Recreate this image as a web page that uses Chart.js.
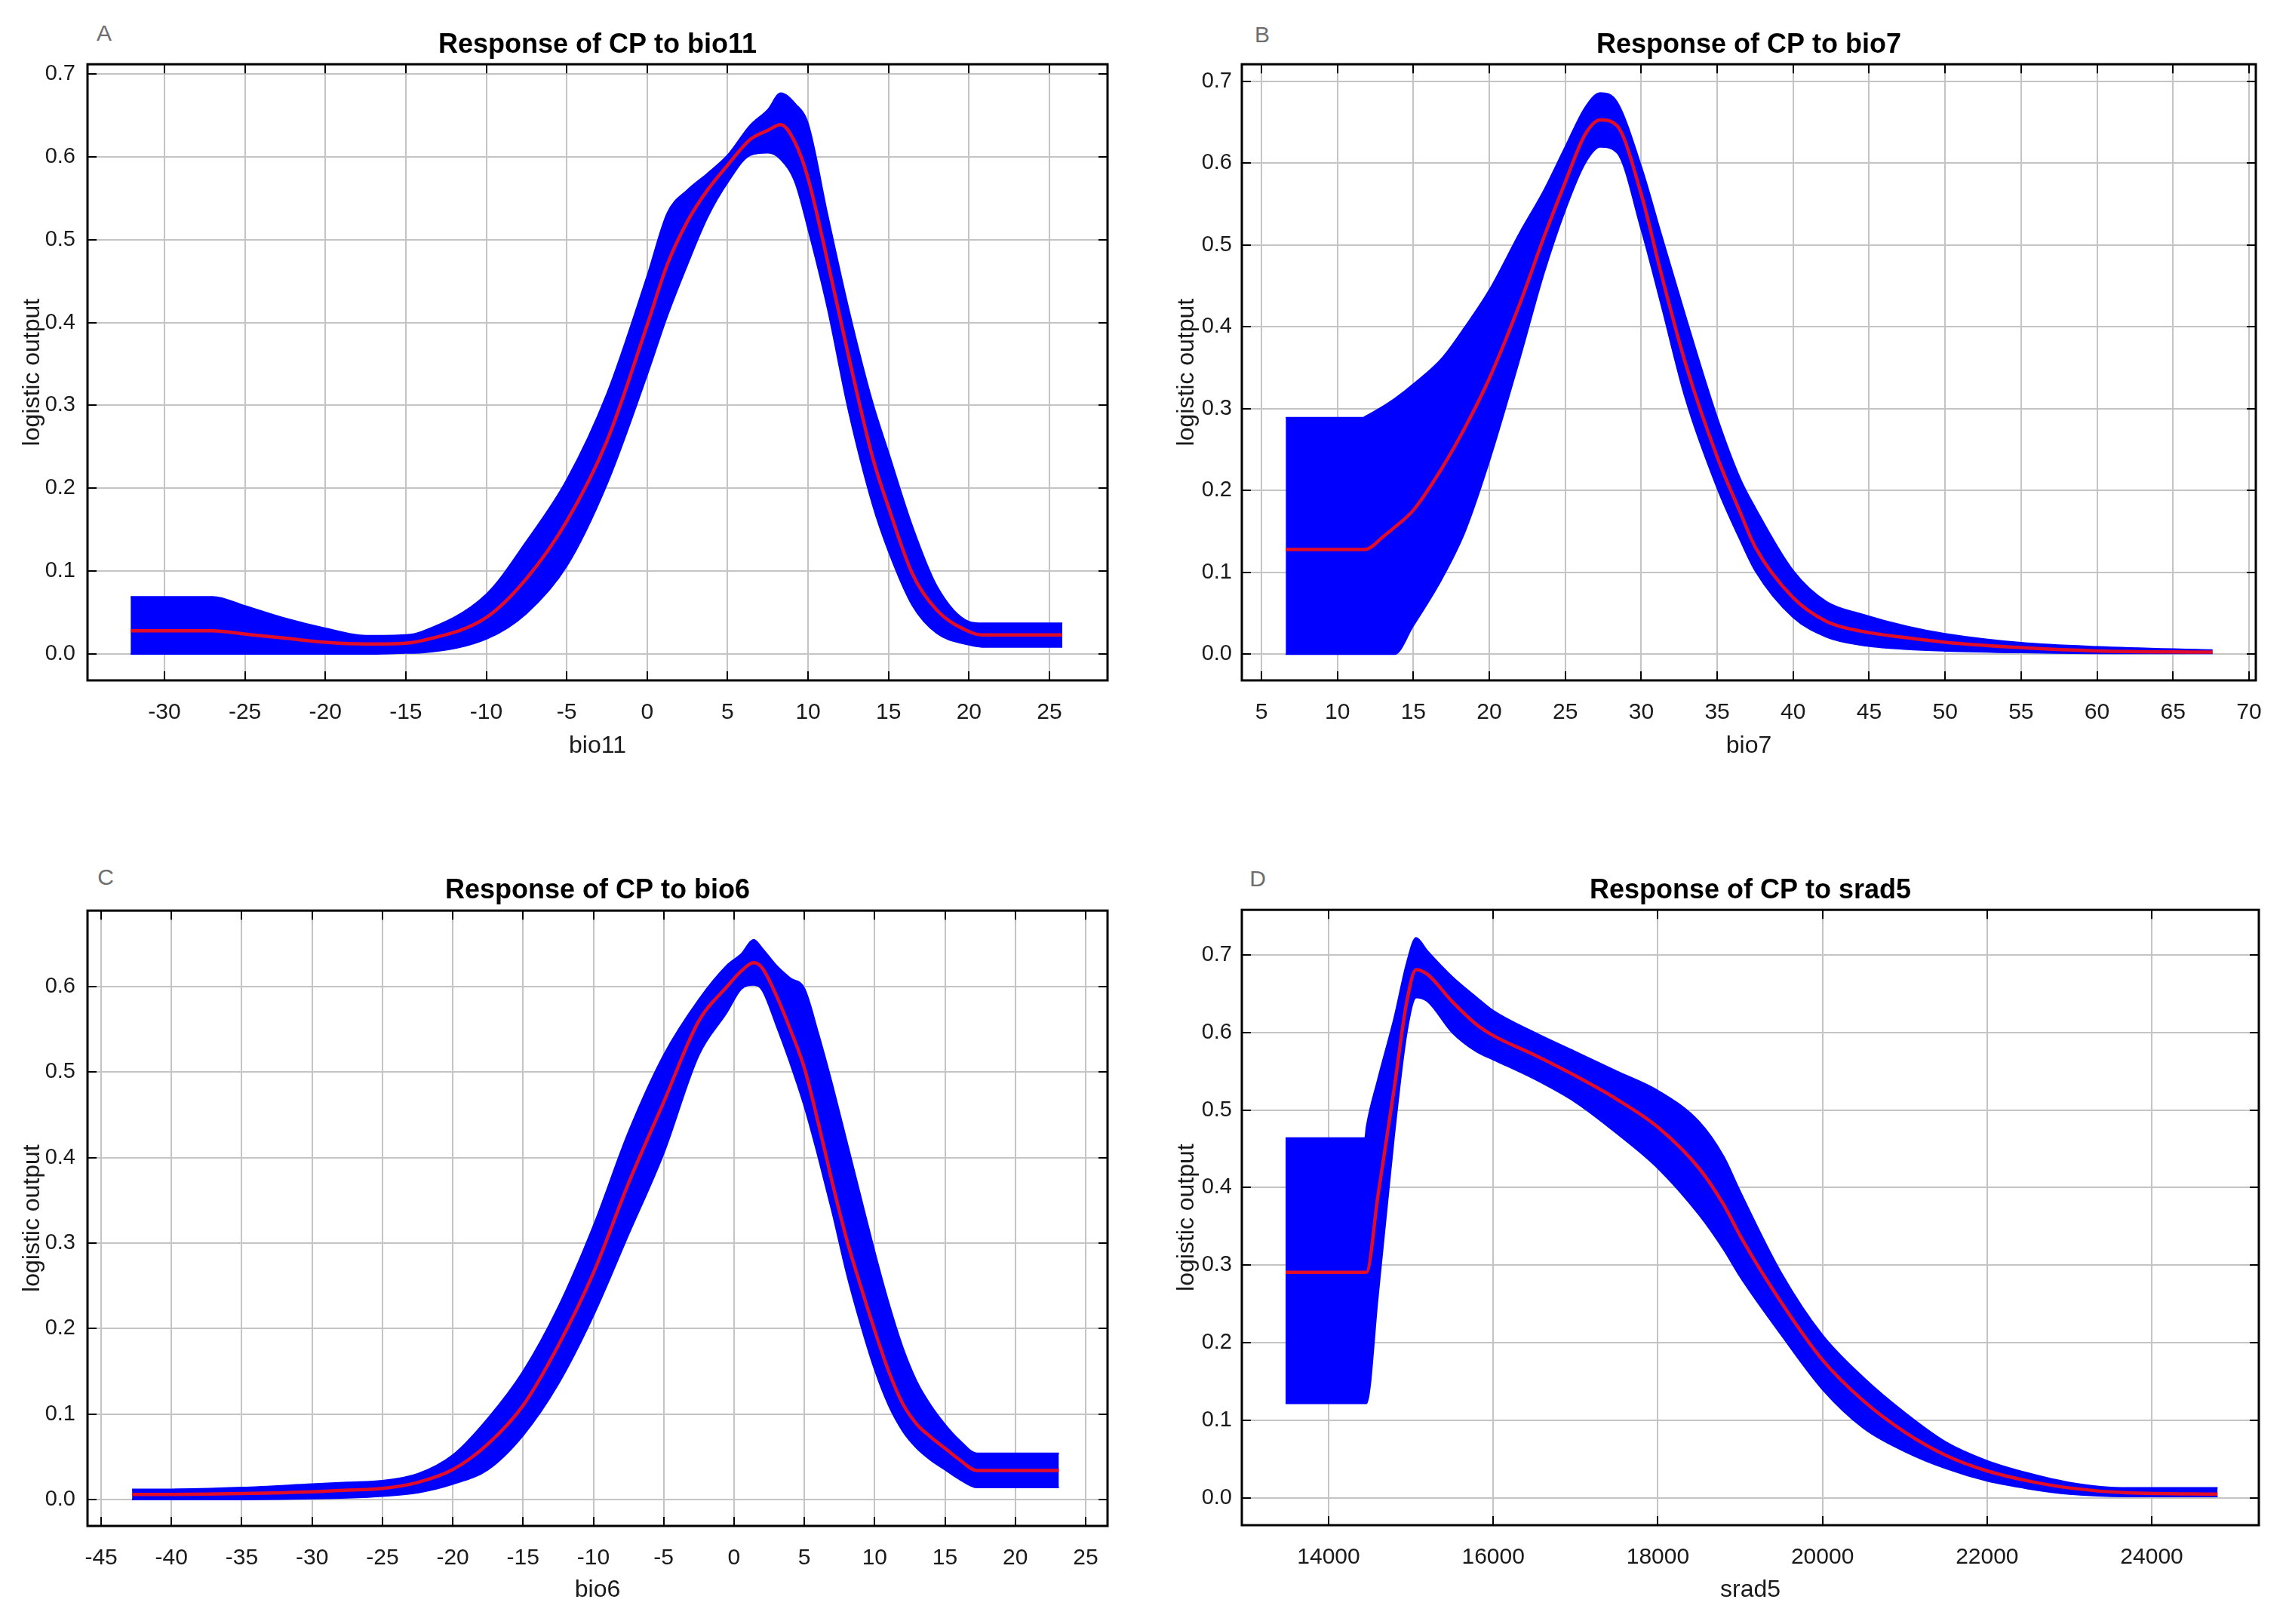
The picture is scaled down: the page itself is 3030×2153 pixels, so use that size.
<!DOCTYPE html>
<html>
<head>
<meta charset="utf-8">
<script src="https://cdn.jsdelivr.net/npm/chart.js@4.4.1/dist/chart.umd.min.js"></script>
<style>
  html, body { margin: 0; padding: 0; background: #ffffff; }
  body { width: 3030px; height: 2153px; position: relative; overflow: hidden; font-family: "Liberation Sans", Arial, sans-serif; }
  canvas { position: absolute; }
  .letter { position: absolute; font-size: 30px; color: #6e6e6e; transform: translate(-50%, -50%); }
</style>
</head>
<body>
<div class="letter" style="left:138px;top:44px;">A</div>
<div class="letter" style="left:1673px;top:46px;">B</div>
<div class="letter" style="left:140px;top:1163px;">C</div>
<div class="letter" style="left:1667px;top:1165px;">D</div>
<canvas id="cA" width="1515" height="1076" style="left:0px;top:0px;"></canvas>
<canvas id="cB" width="1515" height="1076" style="left:1515px;top:0px;"></canvas>
<canvas id="cC" width="1515" height="1077" style="left:0px;top:1076px;"></canvas>
<canvas id="cD" width="1515" height="1077" style="left:1515px;top:1076px;"></canvas>
<script>
// ---------- Panel A: response to bio11 ----------
const bio11X     = [-32.1, -27, -25, -22.5, -20, -17.5, -15, -14, -10, -7.5, -5, -2.5, 0, 1.25, 2.5, 3.75, 5, 6.4, 7.5, 8.3, 9.2, 10, 11.2, 12.5, 14, 15, 16.5, 18, 20, 20.8, 25.8];
const bio11Mean  = [0.028, 0.028, 0.024, 0.019, 0.014, 0.012, 0.013, 0.016, 0.044, 0.091, 0.16, 0.257, 0.397, 0.47, 0.522, 0.56, 0.59, 0.621, 0.632, 0.639, 0.617, 0.574, 0.475, 0.361, 0.238, 0.177, 0.096, 0.053, 0.027, 0.023, 0.023];
const bio11Upper = [0.069, 0.069, 0.058, 0.043, 0.031, 0.022, 0.023, 0.027, 0.072, 0.136, 0.21, 0.314, 0.456, 0.532, 0.56, 0.58, 0.602, 0.638, 0.657, 0.677, 0.664, 0.64, 0.531, 0.418, 0.304, 0.243, 0.153, 0.082, 0.039, 0.037, 0.037];
const bio11Lower = [0, 0, 0, 0, 0, 0, 0.001, 0.0015, 0.018, 0.049, 0.106, 0.205, 0.337, 0.408, 0.47, 0.527, 0.569, 0.602, 0.605, 0.597, 0.569, 0.513, 0.418, 0.295, 0.181, 0.124, 0.058, 0.025, 0.011, 0.0085, 0.0085];
const bio11Ticks = [-30, -25, -20, -15, -10, -5, 0, 5, 10, 15, 20, 25];

// ---------- Panel B: response to bio7 ----------
const bio7X     = [6.6, 11.7, 11.8, 13.1, 13.76, 15, 16.9, 18.4, 20, 22, 23.6, 25, 26.3, 27.3, 28.4, 30, 31.3, 32.9, 35, 36.5, 37.5, 40, 42.2, 44.5, 47.5, 50, 55, 60, 67.6];
const bio7Mean  = [0.128, 0.128, 0.128, 0.145, 0.155, 0.176, 0.228, 0.277, 0.337, 0.428, 0.51, 0.577, 0.635, 0.653, 0.646, 0.562, 0.466, 0.356, 0.241, 0.174, 0.131, 0.069, 0.04, 0.028, 0.02, 0.0146, 0.008, 0.004, 0.0025];
const bio7Upper = [0.289, 0.289, 0.29, 0.304, 0.312, 0.33, 0.362, 0.4, 0.445, 0.515, 0.567, 0.62, 0.668, 0.686, 0.675, 0.596, 0.514, 0.414, 0.289, 0.215, 0.179, 0.102, 0.064, 0.049, 0.034, 0.025, 0.014, 0.009, 0.005];
const bio7Lower = [0, 0, 0, 0, 0, 0.035, 0.093, 0.15, 0.236, 0.361, 0.466, 0.543, 0.6, 0.62, 0.613, 0.519, 0.428, 0.313, 0.203, 0.14, 0.102, 0.045, 0.021, 0.011, 0.006, 0.004, 0.002, 0.001, 0.001];
const bio7Ticks = [5, 10, 15, 20, 25, 30, 35, 40, 45, 50, 55, 60, 65, 70];

// ---------- Panel C: response to bio6 ----------
const bio6X     = [-42.8, -40, -35, -30, -27.5, -25, -22.5, -20, -17.5, -15, -12.5, -10, -7.5, -5, -2.5, -0.5, 0.5, 1.4, 2, 3, 4, 5, 6, 7, 8, 9, 10, 11, 12, 13, 14, 15, 16, 17.3, 23.1];
const bio6Mean  = [0.006, 0.006, 0.007, 0.009, 0.011, 0.013, 0.02, 0.035, 0.065, 0.11, 0.18, 0.265, 0.37, 0.465, 0.56, 0.6, 0.618, 0.628, 0.622, 0.59, 0.55, 0.505, 0.44, 0.37, 0.305, 0.25, 0.198, 0.15, 0.112, 0.088, 0.073, 0.06, 0.047, 0.034, 0.034];
const bio6Upper = [0.012, 0.012, 0.014, 0.018, 0.02, 0.022, 0.03, 0.052, 0.095, 0.15, 0.225, 0.32, 0.43, 0.52, 0.585, 0.625, 0.638, 0.655, 0.645, 0.625, 0.61, 0.598, 0.545, 0.485, 0.42, 0.355, 0.29, 0.23, 0.178, 0.138, 0.11, 0.088, 0.07, 0.054, 0.054];
const bio6Lower = [0, 0, 0, 0.001, 0.002, 0.004, 0.008, 0.018, 0.035, 0.075, 0.135, 0.215, 0.31, 0.405, 0.52, 0.57, 0.597, 0.602, 0.596, 0.555, 0.51, 0.46, 0.4, 0.335, 0.265, 0.205, 0.152, 0.11, 0.08, 0.06, 0.046, 0.035, 0.024, 0.014, 0.014];
const bio6Ticks = [-45, -40, -35, -30, -25, -20, -15, -10, -5, 0, 5, 10, 15, 20, 25];

// ---------- Panel D: response to srad5 ----------
const srad5X     = [13477, 14443, 14460, 14600, 14800, 14950, 15063, 15200, 15500, 15800, 16000, 16500, 17000, 17500, 18000, 18500, 18800, 19000, 19500, 20000, 20500, 21000, 21500, 22000, 22500, 23000, 23700, 24800];
const srad5Mean  = [0.291, 0.291, 0.291, 0.39, 0.53, 0.64, 0.681, 0.675, 0.64, 0.61, 0.596, 0.571, 0.544, 0.514, 0.478, 0.425, 0.378, 0.338, 0.252, 0.178, 0.125, 0.085, 0.055, 0.035, 0.022, 0.013, 0.0067, 0.005];
const srad5Upper = [0.464, 0.464, 0.478, 0.54, 0.62, 0.69, 0.722, 0.705, 0.672, 0.645, 0.628, 0.6, 0.575, 0.55, 0.525, 0.485, 0.44, 0.395, 0.29, 0.21, 0.155, 0.11, 0.072, 0.048, 0.032, 0.02, 0.013, 0.013];
const srad5Lower = [0.122, 0.122, 0.122, 0.26, 0.47, 0.6, 0.645, 0.64, 0.6, 0.575, 0.565, 0.54, 0.51, 0.47, 0.425, 0.365, 0.32, 0.285, 0.21, 0.14, 0.09, 0.06, 0.038, 0.022, 0.012, 0.005, 0.002, 0.002];
const srad5Ticks = [14000, 16000, 18000, 20000, 22000, 24000];

// ---------- Y tick labels / titles ----------
const yTicks7 = [0, 0.1, 0.2, 0.3, 0.4, 0.5, 0.6, 0.7];
const yTicks6 = [0, 0.1, 0.2, 0.3, 0.4, 0.5, 0.6];
const titles = ["Response of CP to bio11", "Response of CP to bio7", "Response of CP to bio6", "Response of CP to srad5"];
const xTitles = ["bio11", "bio7", "bio6", "srad5"];
const yTitle = "logistic output";

const FONT = "'Liberation Sans', Arial, sans-serif";

const frameTicks = {
  id: 'frameTicks',
  afterDraw(chart) {
    const {ctx, chartArea: a, scales} = chart;
    const x = scales.x, y = scales.y;
    ctx.save();
    ctx.strokeStyle = '#000';
    ctx.lineWidth = 2;
    ctx.beginPath();
    x.ticks.forEach((t, i) => {
      const px = Math.round(x.getPixelForTick(i));
      ctx.moveTo(px, a.bottom); ctx.lineTo(px, a.bottom - 12);
      ctx.moveTo(px, a.top); ctx.lineTo(px, a.top + 12);
    });
    y.ticks.forEach((t, i) => {
      const py = Math.round(y.getPixelForTick(i));
      ctx.moveTo(a.left, py); ctx.lineTo(a.left + 12, py);
      ctx.moveTo(a.right, py); ctx.lineTo(a.right - 12, py);
    });
    ctx.stroke();
    ctx.lineWidth = 3;
    ctx.strokeRect(a.left, a.top, a.right - a.left, a.bottom - a.top);
    ctx.restore();
  }
};

function pts(xs, ys) { return xs.map((v, i) => ({x: v, y: ys[i]})); }

function makeChart(id, o) {
  const ctx = document.getElementById(id);
  return new Chart(ctx, {
    type: 'line',
    data: {
      datasets: [
        { label: 'mean', data: pts(o.x, o.mean), borderColor: 'rgb(226,12,40)', borderWidth: 4.5,
          pointRadius: 0, fill: false, cubicInterpolationMode: 'monotone', order: 0 },
        { label: 'upper', data: pts(o.x, o.upper), borderColor: '#0000ff', borderWidth: 2,
          backgroundColor: '#0000ff', pointRadius: 0, fill: '+1', cubicInterpolationMode: 'monotone', order: 1 },
        { label: 'lower', data: pts(o.x, o.lower), borderColor: '#0000ff', borderWidth: 2,
          backgroundColor: '#0000ff', pointRadius: 0, fill: false, cubicInterpolationMode: 'monotone', order: 2 }
      ]
    },
    options: {
      responsive: false,
      animation: false,
      devicePixelRatio: 1,
      layout: { padding: { left: 0, top: 0, right: o.padRight, bottom: 0 } },
      plugins: {
        legend: { display: false },
        tooltip: { enabled: false },
        title: {
          display: true, text: o.title, fullSize: false, color: '#000',
          font: { family: FONT, size: 36, weight: 'bold', lineHeight: 1.2 },
          padding: { top: o.titleTop, bottom: o.titleBottom }
        }
      },
      scales: {
        x: {
          type: 'linear', min: o.xmin, max: o.xmax,
          grid: { color: '#c4c4c4', lineWidth: 2, drawTicks: false },
          border: { display: false },
          afterBuildTicks: s => { s.ticks = o.xticks.map(v => ({ value: v })); },
          ticks: { maxRotation: 0, autoSkip: false,
                   padding: 25, color: '#1a1a1a', font: { family: FONT, size: 30 },
                   callback: v => String(Math.round(v)) },
          title: { display: true, text: o.xTitle, color: '#1a1a1a', font: { family: FONT, size: 32, lineHeight: 1.2 },
                   padding: { top: 0, bottom: o.xTitlePad } },
          afterFit: s => { s.height = o.xHeight; }
        },
        y: {
          type: 'linear', min: o.ymin, max: o.ymax,
          grid: { color: '#c4c4c4', lineWidth: 2, drawTicks: false },
          border: { display: false },
          afterBuildTicks: s => { s.ticks = o.yticks.map(v => ({ value: v })); },
          ticks: { padding: o.yTickPad, color: '#1a1a1a', autoSkip: false,
                   font: { family: FONT, size: 29 },
                   callback: v => (Math.abs(v) < 1e-9 ? 0 : v).toFixed(1) },
          title: { display: true, text: yTitle, color: '#1a1a1a', font: { family: FONT, size: 32, lineHeight: 1.2 },
                   padding: { top: o.yTitlePad, bottom: 0 } },
          afterFit: s => { s.width = o.yWidth; }
        }
      }
    },
    plugins: [frameTicks]
  });
}

makeChart('cA', { x: bio11X, mean: bio11Mean, upper: bio11Upper, lower: bio11Lower, xticks: bio11Ticks, yticks: yTicks7,
  title: titles[0], xTitle: xTitles[0], xmin: -34.78, xmax: 28.61, ymin: -0.0319, ymax: 0.7118,
  padRight: 47, yWidth: 116, xHeight: 174, titleTop: 38, titleBottom: 4, xTitlePad: 68, yTitlePad: 24, yTickPad: 16 });

makeChart('cB', { x: bio7X, mean: bio7Mean, upper: bio7Upper, lower: bio7Lower, xticks: bio7Ticks, yticks: yTicks7,
  title: titles[1], xTitle: xTitles[1], xmin: 3.71, xmax: 70.45, ymin: -0.032, ymax: 0.721,
  padRight: 40, yWidth: 131, xHeight: 174, titleTop: 38, titleBottom: 4, xTitlePad: 68, yTitlePad: 39, yTickPad: 13 });

makeChart('cC', { x: bio6X, mean: bio6Mean, upper: bio6Upper, lower: bio6Lower, xticks: bio6Ticks, yticks: yTicks6,
  title: titles[2], xTitle: xTitles[2], xmin: -45.97, xmax: 26.56, ymin: -0.0309, ymax: 0.689,
  padRight: 47, yWidth: 116, xHeight: 130, titleTop: 83, titleBottom: 5, xTitlePad: 26, yTitlePad: 24, yTickPad: 16 });

makeChart('cD', { x: srad5X, mean: srad5Mean, upper: srad5Upper, lower: srad5Lower, xticks: srad5Ticks, yticks: yTicks7,
  title: titles[3], xTitle: xTitles[3], xmin: 12946, xmax: 25301, ymin: -0.035, ymax: 0.758,
  padRight: 36, yWidth: 131, xHeight: 131, titleTop: 83, titleBottom: 4, xTitlePad: 26, yTitlePad: 39, yTickPad: 13 });
</script>
</body>
</html>
